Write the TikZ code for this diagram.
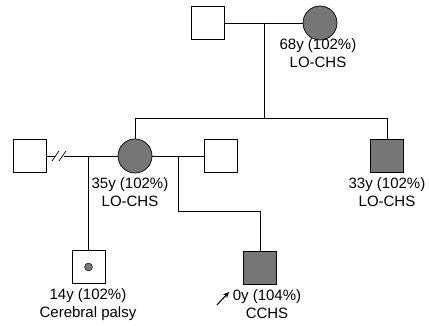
\documentclass[tikz,border=0pt]{standalone}
\usepackage{fontspec}
\setmainfont{Liberation Sans}
\usetikzlibrary{arrows.meta}
\definecolor{affgray}{RGB}{118,118,118}

\begin{document}
\begin{tikzpicture}[x=1pt,y=-1pt,>={Stealth[length=6pt,width=5.5pt]},line width=0.7pt,
    male/.style={draw,minimum size=33pt,inner sep=0pt},
    female/.style={draw,circle,minimum size=34pt,inner sep=0pt},
    aff/.style={fill=affgray},
    lbl/.style={align=center,font=\fontsize{15}{18}\selectfont,inner sep=0pt}]
    \useasboundingbox (0,0) rectangle (429,326);
    % generation I
    \node[male]       (gf) at (207.5,23) {};
    \node[female,aff] (gm) at (320,23) {};
    \node[lbl] (lgm) at (318,53) {68y (102\%)\\LO-CHS};
    \coordinate (m1) at (264,23);
    \coordinate (s1) at (264,118);
    \coordinate (sL) at (135,118);
    \coordinate (sR) at (387,118);
    \draw (gf) -- (gm);
    \draw (m1) -- (s1);
    \draw (sL) -- (sR);
    % generation II
    \node[male]       (sp1) at (29.5,156) {};
    \node[female,aff] (mo)  at (135,156) {};
    \node[male]       (sp2) at (220.5,156) {};
    \node[male,aff]   (br)  at (387,156) {};
    \node[lbl] (lmo) at (130,192.5) {35y (102\%)\\LO-CHS};
    \node[lbl] (lbr) at (387,192.5) {33y (102\%)\\LO-CHS};
    \draw (sL) -- (mo);
    \draw (sR) -- (br);
    \coordinate (b1) at (55,156);
    \coordinate (b2) at (64,156);
    \draw (sp1) -- (b1);
    \draw (b2) -- (mo);
    \draw (52,161) -- (59,151);
    \draw (59,161) -- (66,151);
    \draw (mo) -- (sp2);
    % generation III
    \coordinate (m2) at (88.5,156);
    \coordinate (m3) at (178,156);
    \coordinate (k1) at (260,211);
    \node[male]     (c1) at (88.5,267) {};
    \node[circle,draw,aff,minimum size=8pt,inner sep=0pt,line width=0.4pt] (dot) at (c1) {};
    \node[male,aff] (pb) at (260,267.5) {};
    \node[lbl] (lc1) at (88,304.5) {14y (102\%)\\Cerebral palsy};
    \node[lbl] (lpb) at (267,304.5) {0y (104\%)\\CCHS};
    \draw (m2) -- (c1);
    \draw (m3) |- (k1) -- (pb);
    \coordinate (a0) at (217,305);
    \coordinate (a1) at (229,292);
    \draw[->,line width=1.1pt] (a0) -- (a1);
\end{tikzpicture}
\end{document}
